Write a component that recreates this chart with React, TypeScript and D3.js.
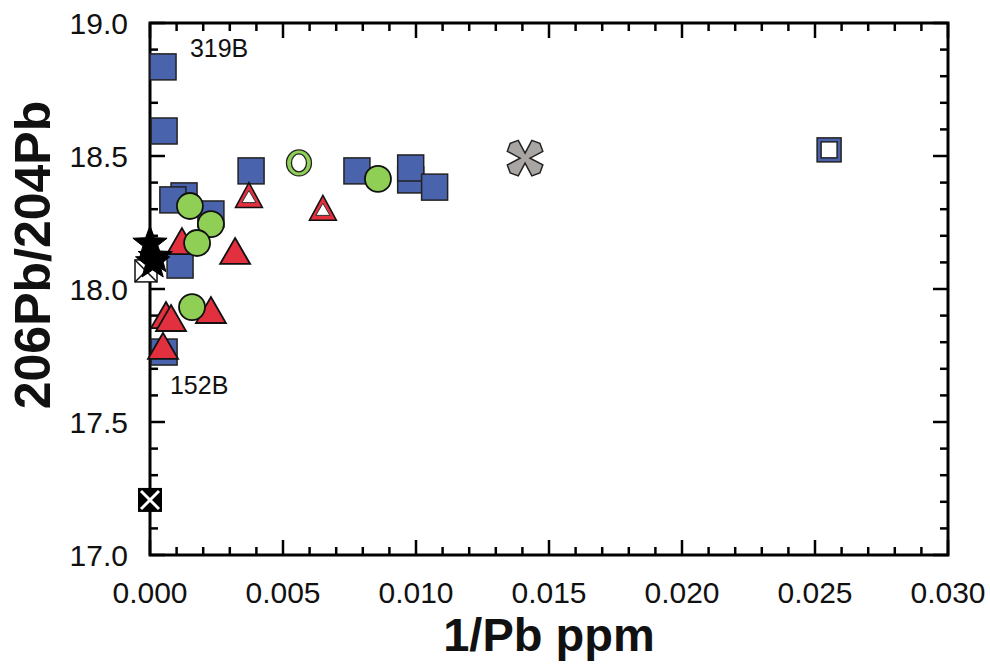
import React from "react";
import * as d3 from "d3";

const W = 990, H = 667;
const X_DOMAIN = [0, 0.03];
const Y_DOMAIN = [17.0, 19.0];
const xTicks = [0, 0.005, 0.01, 0.015, 0.02, 0.025, 0.03];
const yTicks = [17.0, 17.5, 18.0, 18.5, 19.0];

const blueSquares = [
  [0.00049, 18.835], [0.00053, 18.594], [0.0038, 18.444], [0.00778, 18.444],
  [0.0098, 18.41], [0.0098, 18.455], [0.0107, 18.383], [0.00128, 18.35],
  [0.00086, 18.335], [0.00229, 18.282], [0.00113, 18.09], [0.00053, 17.763],
];
const openBlueSquares = [[0.02553, 18.523]];
const redTriangles = [
  [0.0012, 18.18], [0.0032, 18.143], [0.0006, 17.902], [0.00079, 17.891],
  [0.00229, 17.921], [0.00049, 17.786],
];
const openRedTriangles = [[0.00372, 18.353], [0.0065, 18.305]];
const greenCircles = [
  [0.0015, 18.312], [0.00229, 18.244], [0.00177, 18.173], [0.00158, 17.932], [0.00857, 18.414],
];
const openGreenCircles = [[0.0056, 18.474]];
const blackStars = [[0.0, 18.17], [0.0002, 18.12], [0.0001, 18.1]];
const openXSquares = [[-0.00015, 18.068]];
const blackXSquares = [[0.0, 17.207]];
const grayAsterisks = [[0.0141, 18.492]];
const labels = [
  { text: "319B", x: 0.0015, y: 18.872 },
  { text: "152B", x: 0.00075, y: 17.605 },
];

const FONT = "'Liberation Sans', Arial, sans-serif";
const BLUE = "#4a63ad";
const GREEN = "#8fcf55";
const RED = "#e3303f";
const GRAY = "#a8a5a2";

const L = 150, R = 948, T = 23, B = 555;

function starPath(r1: number, r2: number) {
  const pts: string[] = [];
  for (let i = 0; i < 10; i++) {
    const a = -Math.PI / 2 + (i * Math.PI) / 5;
    const r = i % 2 === 0 ? r1 : r2;
    pts.push(`${(r * Math.cos(a)).toFixed(2)},${(r * Math.sin(a)).toFixed(2)}`);
  }
  return "M" + pts.join("L") + "Z";
}

function asteriskPath() {
  const p = (ang: number, r: number) => `${(r * Math.cos(ang)).toFixed(2)},${(r * Math.sin(ang)).toFixed(2)}`;
  let d = "M";
  const pts: string[] = [];
  for (let k = 0; k < 4; k++) {
    const a = Math.PI / 4 + (k * Math.PI) / 2;
    pts.push(p(a - 0.42, 19));
    pts.push(p(a, 21));
    pts.push(p(a + 0.42, 19));
    pts.push(p(a + Math.PI / 4, 5));
  }
  d += pts.join("L") + "Z";
  return d;
}

export default function App() {
  const x = d3.scaleLinear().domain(X_DOMAIN).range([L, R]);
  const y = d3.scaleLinear().domain(Y_DOMAIN).range([B, T]);
  const xMinor = d3.range(0, 31).map((i) => i * 0.001);
  const yMinor = d3.range(0, 21).map((i) => 17 + i * 0.1);
  const S = 26;
  const tri = (w: number, h: number) => `M0,${-h / 2}L${w / 2},${h / 2}L${-w / 2},${h / 2}Z`;

  return (
    <svg width={W} height={H} style={{ position: "absolute", left: 0, top: 0, background: "#fff" }}>
      <g stroke="#000" strokeWidth={2.5}>
        {xMinor.map((v, i) => {
          const len = i % 5 === 0 ? 15 : 8;
          return (
            <g key={"xm" + i}>
              <line x1={x(v)} x2={x(v)} y1={B} y2={B - len} />
              <line x1={x(v)} x2={x(v)} y1={T} y2={T + len} />
            </g>
          );
        })}
        {yMinor.map((v, i) => {
          const len = i % 5 === 0 ? 15 : 8;
          return (
            <g key={"ym" + i}>
              <line x1={L} x2={L + len} y1={y(v)} y2={y(v)} />
              <line x1={R} x2={R - len} y1={y(v)} y2={y(v)} />
            </g>
          );
        })}
      </g>
      <rect x={L} y={T} width={R - L} height={B - T} fill="none" stroke="#000" strokeWidth={3} />

      <g fontFamily={FONT} fontSize={30} fill="#111">
        {xTicks.map((v) => (
          <text key={"xt" + v} x={x(v)} y={603} textAnchor="middle">{v.toFixed(3)}</text>
        ))}
        {yTicks.map((v) => (
          <text key={"yt" + v} x={128} y={y(v) + 11} textAnchor="end">{v.toFixed(1)}</text>
        ))}
      </g>
      <text x={(L + R) / 2} y={651} textAnchor="middle" fontFamily={FONT} fontWeight="bold" fontSize={47} fill="#111">1/Pb ppm</text>
      <text transform={`translate(50,${(T + B) / 2 - 34}) rotate(-90)`} textAnchor="middle" fontFamily={FONT} fontWeight="bold" fontSize={50} fill="#111">206Pb/204Pb</text>

      <g fontFamily={FONT} fontSize={25} fill="#111">
        {labels.map((l) => (
          <text key={l.text} x={x(l.x)} y={y(l.y)}>{l.text}</text>
        ))}
      </g>

      {blueSquares.map(([a, b], i) => (
        <rect key={"bs" + i} x={x(a) - S / 2} y={y(b) - S / 2} width={S} height={S} fill={BLUE} stroke="#222" strokeWidth={1.5} />
      ))}
      {openBlueSquares.map(([a, b], i) => (
        <g key={"obs" + i} transform={`translate(${x(a)},${y(b)})`}>
          <rect x={-12} y={-12} width={24} height={24} fill={BLUE} stroke="#222" strokeWidth={1.5} />
          <rect x={-8} y={-8} width={16} height={16} fill="#fff" stroke="#222" strokeWidth={1.5} />
        </g>
      ))}

      {redTriangles.map(([a, b], i) => (
        <path key={"rt" + i} transform={`translate(${x(a)},${y(b)})`} d={tri(30, 26)} fill={RED} stroke="#111" strokeWidth={1.8} strokeLinejoin="miter" />
      ))}
      {openRedTriangles.map(([a, b], i) => (
        <g key={"ort" + i} transform={`translate(${x(a)},${y(b)})`}>
          <path d={tri(27, 25)} fill={RED} stroke="#111" strokeWidth={1.5} />
          <path d="M0,-4.5L7,7.5L-7,7.5Z" fill="#fff" stroke="#333" strokeWidth={1} />
        </g>
      ))}

      {greenCircles.map(([a, b], i) => (
        <circle key={"gc" + i} cx={x(a)} cy={y(b)} r={13} fill={GREEN} stroke="#111" strokeWidth={1.8} />
      ))}
      {openGreenCircles.map(([a, b], i) => (
        <g key={"ogc" + i} transform={`translate(${x(a)},${y(b)})`}>
          <ellipse rx={12.5} ry={13} fill={GREEN} stroke="#222" strokeWidth={1.3} />
          <ellipse rx={7.5} ry={9} fill="#fff" stroke="#222" strokeWidth={1.3} />
        </g>
      ))}

      {openXSquares.map(([a, b], i) => (
        <g key={"oxs" + i} transform={`translate(${x(a)},${y(b)})`}>
          <rect x={-11} y={-11} width={22} height={22} fill="#fff" stroke="#111" strokeWidth={1.5} />
          <path d="M-11,-11L11,11M11,-11L-11,11" stroke="#111" strokeWidth={1.5} />
        </g>
      ))}

      {blackStars.map(([a, b], i) => (
        <path key={"st" + i} transform={`translate(${x(a)},${y(b)})`} d={starPath(18, 7.5)} fill="#000" stroke="#000" strokeWidth={1} />
      ))}

      {blackXSquares.map(([a, b], i) => (
        <g key={"bxs" + i} transform={`translate(${x(a)},${y(b)})`}>
          <rect x={-12} y={-12} width={24} height={24} fill="#000" />
          <path d="M-9,-9L9,9M9,-9L-9,9" stroke="#fff" strokeWidth={3} />
        </g>
      ))}

      {grayAsterisks.map(([a, b], i) => (
        <path key={"ga" + i} transform={`translate(${x(a)},${y(b)})`} d={asteriskPath()} fill={GRAY} stroke="#222" strokeWidth={1.5} strokeLinejoin="miter" />
      ))}
    </svg>
  );
}
